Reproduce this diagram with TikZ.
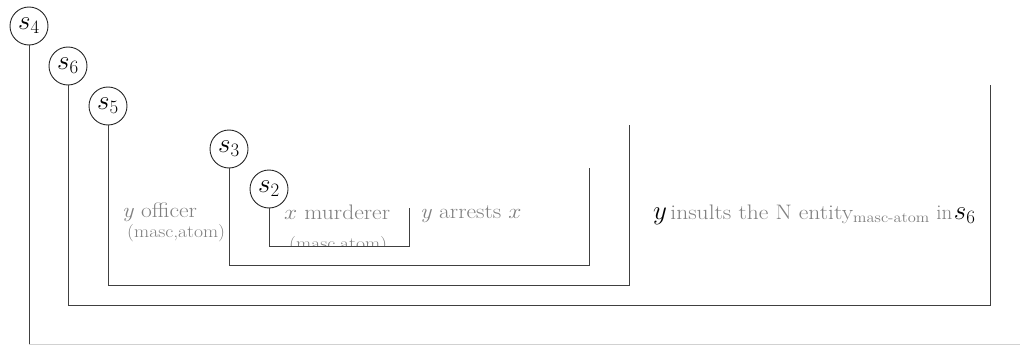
\RequirePackage{fix-cm}
\documentclass[tikz,border=0pt]{standalone}
\usepackage{graphicx}
\newcommand{\gw}[1]{\scalebox{1.12}[1]{#1}}
\begin{document}
\begin{tikzpicture}[x=1pt,y=-1pt,
  sn/.style={draw=black!85, circle, line width=0.9pt, minimum size=38pt, inner sep=0pt,
             font=\fontsize{27}{30}\selectfont},
  br/.style={draw=black!75, line width=1pt},
  edge/.style={draw=black!18, line width=1pt},
  lbl/.style={text=black!50, font=\fontsize{21}{24}\selectfont, inner sep=0pt, anchor=base west},
  sub/.style={text=black!50, font=\fontsize{17.5}{20}\selectfont, inner sep=0pt, anchor=base west},
]
\useasboundingbox (0,0) rectangle (1020,345);

% scope nodes
\node[sn] (s4) at (29,26)  {$s_4$};
\node[sn] (s6) at (68,66)  {$s_6$};
\node[sn] (s5) at (108,106) {$s_5$};
\node[sn] (s3) at (229,149) {$s_3$};
\node[sn] (s2) at (269,189) {$s_2$};

% bracket corners
\coordinate (r4) at (1020,344);
\coordinate (r6) at (990,305);
\coordinate (r5) at (629,285);
\coordinate (r3) at (589,265);
\coordinate (r2) at (409,246);

\draw[br] (s4.south) -- (s4.south |- r4);
\draw[edge] (s4.south |- r4) -- (r4);
\draw[br] (s6.south) -- (s6.south |- r6) -- (r6) -- (r6 |- s6.south);
\draw[br] (s5.south) -- (s5.south |- r5) -- (r5) -- (r5 |- s5.south);
\draw[br] (s3.south) -- (s3.south |- r3) -- (r3) -- (r3 |- s3.south);
\draw[br] (s2.south) -- (s2.south |- r2) -- (r2) -- (r2 |- s2.south);

% labels
\node[lbl] (off) at (122,217) {\gw{\textit{y} officer}};
\node[sub] (offs) at (127,237) {\gw{(masc,atom)}};
\node[lbl] (mur) at (284,219) {\gw{$x$ murderer}};
\begin{scope}
  \clip (272,225) rectangle (405,245.5);
  \node[sub] (murs) at (289,249) {\gw{(masc,atom)}};
\end{scope}
\node[lbl] (arr) at (420,218) {\gw{\textit{y} arrests $x$}};
\node[inner sep=0pt, anchor=base west] (ins) at (653,219)
  {{\fontsize{27}{30}\selectfont$y$} {\color{black!50}\fontsize{21}{24}\selectfont\gw{insults the N entity\textsubscript{masc-atom}} in}\,{\fontsize{27}{30}\selectfont$s_6$}};
\end{tikzpicture}
\end{document}
